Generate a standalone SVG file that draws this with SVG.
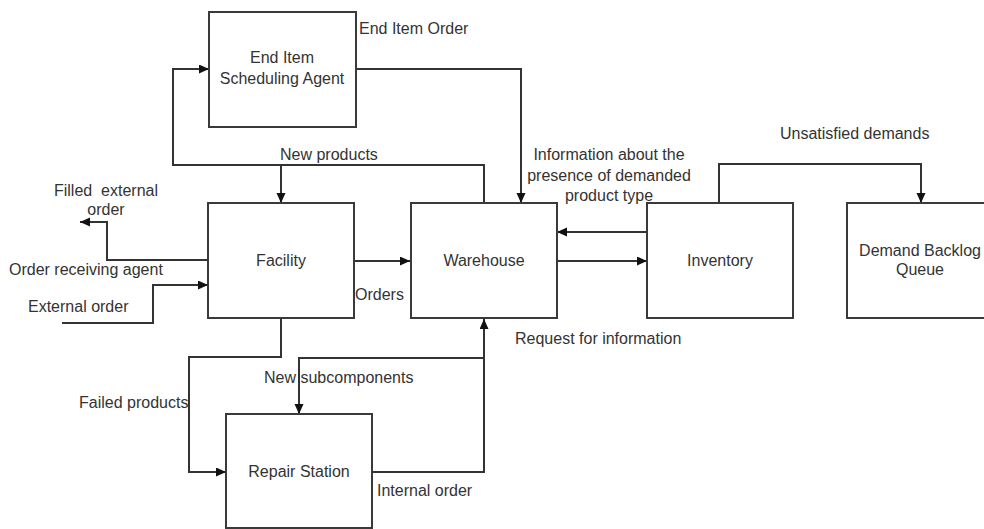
<svg xmlns="http://www.w3.org/2000/svg" width="984" height="529" viewBox="0 0 984 529">
<defs>
<marker id="arr" markerUnits="userSpaceOnUse" markerWidth="11" markerHeight="10" refX="10" refY="4.5" orient="auto">
<path d="M0,0 L10,4.5 L0,9 z" fill="#111"/>
</marker>
<style>
.box{fill:#fff;stroke:#3a3a3a;stroke-width:2}
.c{fill:none;stroke:#333;stroke-width:2;marker-end:url(#arr)}
text{font-family:"Liberation Sans",Arial,sans-serif;font-size:16px;fill:#333}
.m{text-anchor:middle}
</style>
</defs>
<rect width="984" height="529" fill="#fff"/>
<g id="connectors">
<path class="c" d="M356,69 H521 V203"/>
<path class="c" d="M484,203 V165 H173 V69 H209"/>
<path class="c" d="M281,165 V203"/>
<path class="c" d="M354,261 H410"/>
<path class="c" d="M208,260 H107 V222 H80"/>
<path class="c" d="M62,323 H153 V285 H208"/>
<path class="c" d="M281,318 V357 H189 V472 H226"/>
<path class="c" d="M372,472 H484 V319"/>
<path class="c" d="M484,358 H299 V414"/>
<path class="c" d="M647,232 H557"/>
<path class="c" d="M557,261 H647"/>
<path class="c" d="M719,203 V164 H921 V203"/>
</g>
<g id="eisa">
<rect class="box" x="209" y="12" width="147" height="115"/>
<text class="m" x="282" y="63">End Item</text>
<text class="m" x="282" y="84">Scheduling Agent</text>
</g>
<g id="facility">
<rect class="box" x="208" y="203" width="146" height="115"/>
<text class="m" x="281" y="266">Facility</text>
</g>
<g id="warehouse">
<rect class="box" x="411" y="203" width="146" height="115"/>
<text class="m" x="484" y="266">Warehouse</text>
</g>
<g id="inventory">
<rect class="box" x="647" y="203" width="146" height="115"/>
<text class="m" x="720" y="266">Inventory</text>
</g>
<g id="dbq">
<rect class="box" x="847" y="203" width="146" height="115"/>
<text class="m" x="920" y="256">Demand Backlog</text>
<text class="m" x="920" y="275">Queue</text>
</g>
<g id="repair">
<rect class="box" x="226" y="414" width="146" height="114"/>
<text class="m" x="299" y="477">Repair Station</text>
</g>
<g id="labels">
<text x="359" y="34">End Item Order</text>
<text x="280" y="160">New products</text>
<text class="m" x="106" y="196" xml:space="preserve" style="white-space:pre">Filled  external</text>
<text class="m" x="106" y="215">order</text>
<text x="9" y="275">Order receiving agent</text>
<text x="28" y="312">External order</text>
<text x="355" y="300">Orders</text>
<text x="79" y="408">Failed products</text>
<text x="264" y="383">New subcomponents</text>
<text x="377" y="496">Internal order</text>
<text x="515" y="344">Request for information</text>
<text class="m" x="609" y="160">Information about the</text>
<text class="m" x="609" y="181">presence of demanded</text>
<text class="m" x="609" y="201">product type</text>
<text x="780" y="139">Unsatisfied demands</text>
</g>
</svg>
